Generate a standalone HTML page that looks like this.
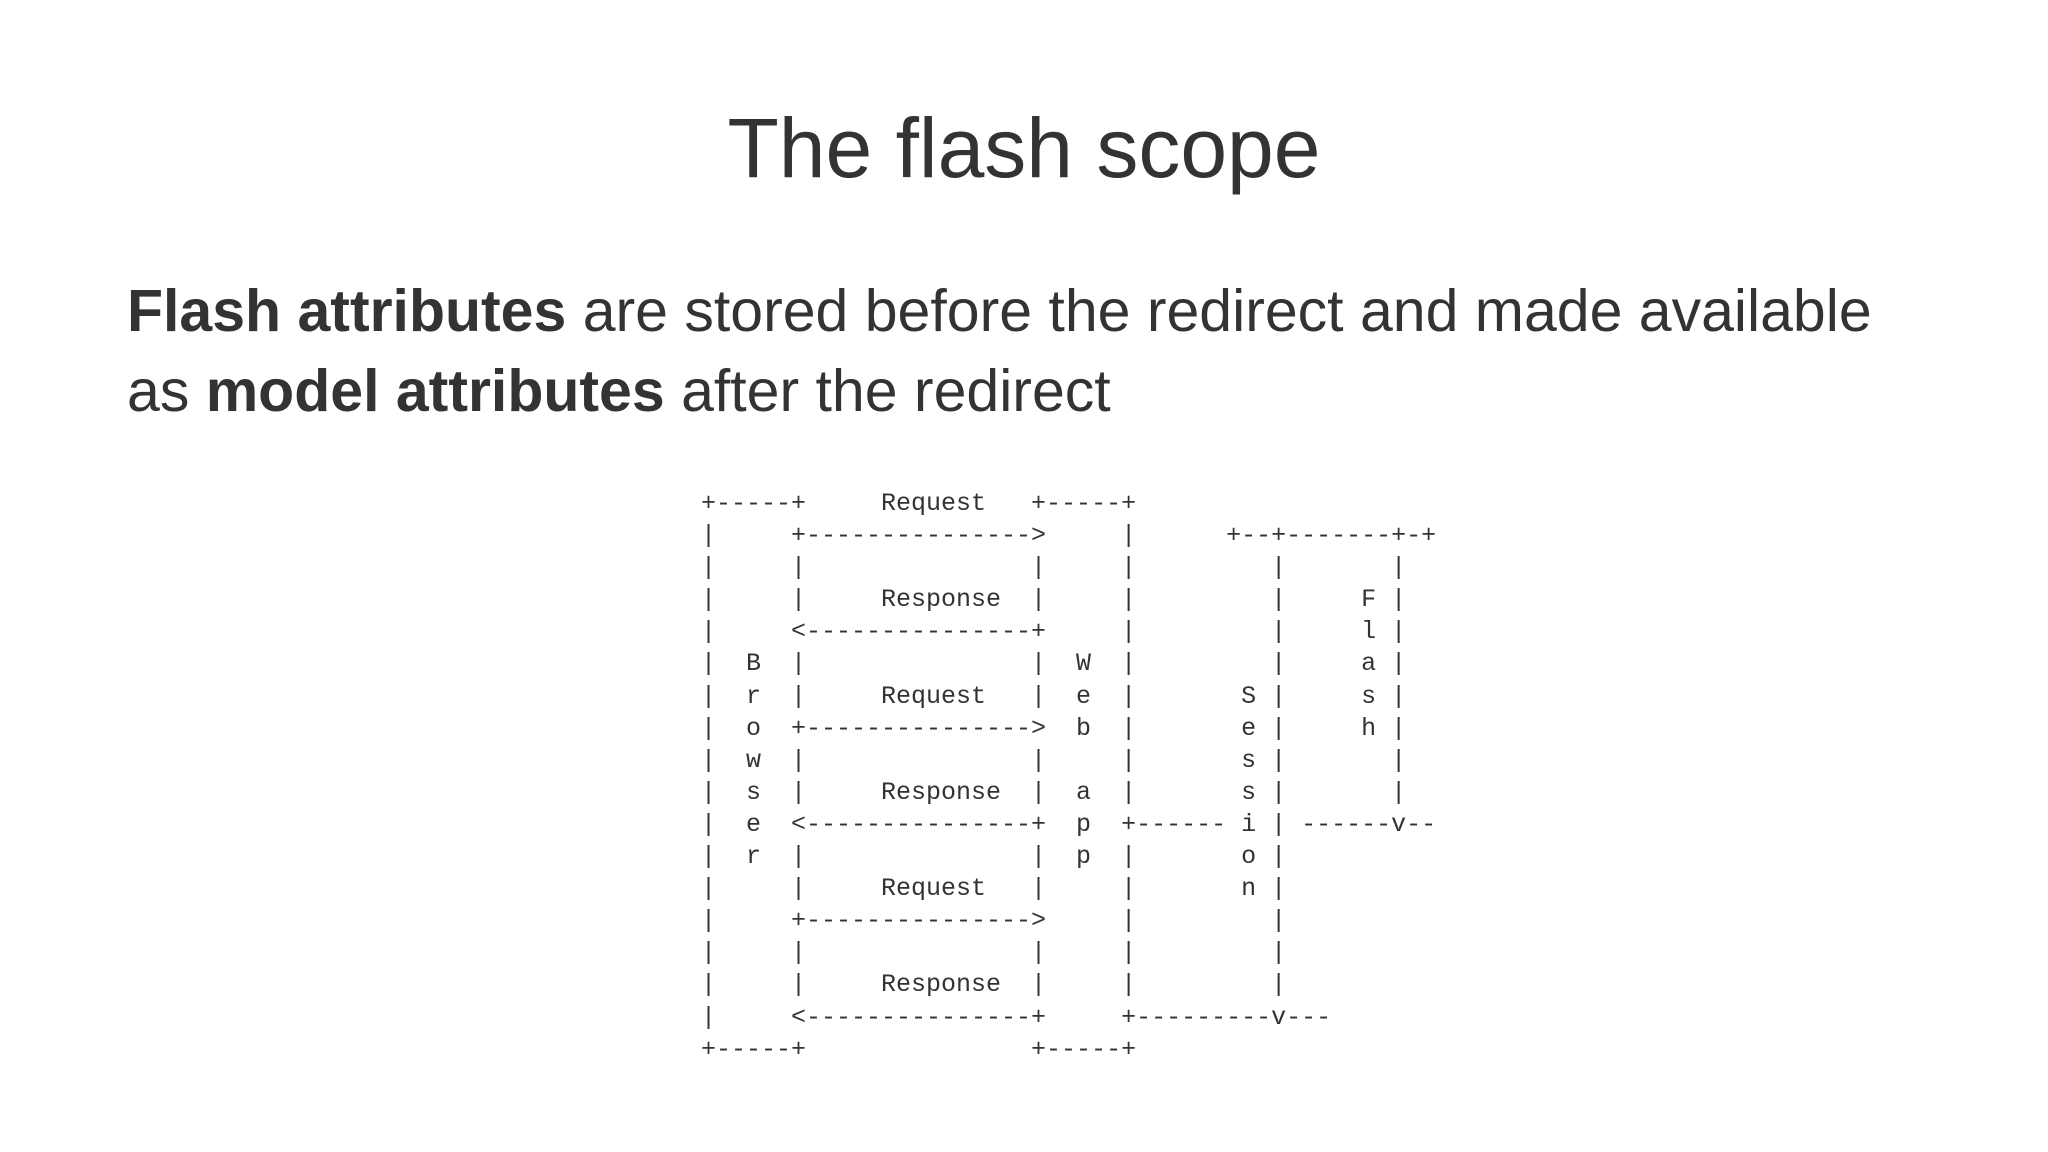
<!DOCTYPE html>
<html><head><meta charset="utf-8"><style>
html,body{margin:0;padding:0;background:#fff;}
body{width:2048px;height:1152px;position:relative;overflow:hidden;color:#333;font-family:"Liberation Sans",sans-serif;}
#t{position:absolute;left:0;width:2048px;top:98px;text-align:center;font-size:84px;line-height:100px;}
#b{position:absolute;left:127px;top:271px;font-size:59px;line-height:80px;white-space:nowrap;}
#b b{font-weight:bold;}
pre{position:absolute;left:701px;top:488px;margin:0;font-family:"Liberation Mono",monospace;font-size:25px;line-height:32.1px;color:#333;}
</style></head><body>
<div id="t">The flash scope</div>
<div id="b"><b>Flash attributes</b> are stored before the redirect and made available<br>as <b>model attributes</b> after the redirect</div>
<pre>+-----+     Request   +-----+
|     +---------------&gt;     |      +--+-------+-+
|     |               |     |         |       |
|     |     Response  |     |         |     F |
|     &lt;---------------+     |         |     l |
|  B  |               |  W  |         |     a |
|  r  |     Request   |  e  |       S |     s |
|  o  +---------------&gt;  b  |       e |     h |
|  w  |               |     |       s |       |
|  s  |     Response  |  a  |       s |       |
|  e  &lt;---------------+  p  +------ i | ------v--
|  r  |               |  p  |       o |
|     |     Request   |     |       n |
|     +---------------&gt;     |         |
|     |               |     |         |
|     |     Response  |     |         |
|     &lt;---------------+     +---------v---
+-----+               +-----+</pre>
</body></html>
